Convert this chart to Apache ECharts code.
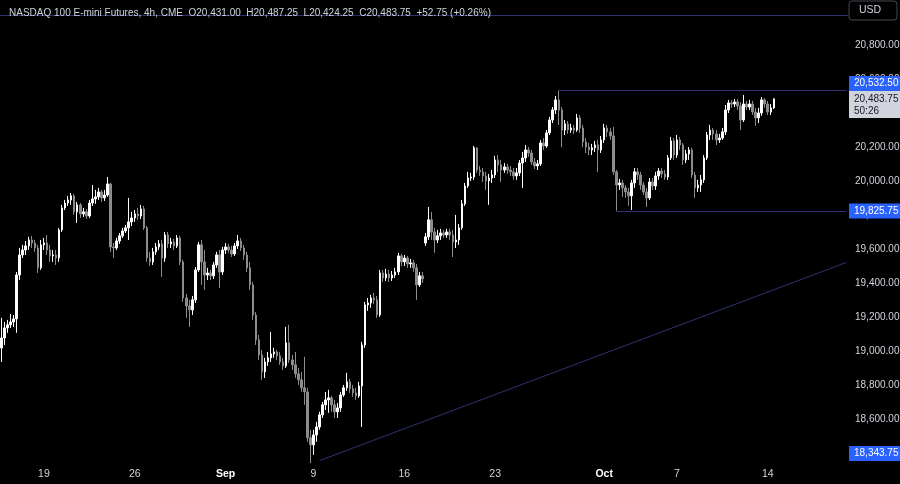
<!DOCTYPE html>
<html><head><meta charset="utf-8">
<script src="https://cdn.jsdelivr.net/npm/echarts@6/dist/echarts.min.js"></script>
<style>html,body{margin:0;padding:0;background:#000;}#c{width:900px;height:484px;}</style>
</head><body><div id="c"></div>
<script>
// ---- data ----
const title = "NASDAQ 100 E-mini Futures, 4h, CME";
const currency = "USD";
const countdown = "50:26";
const change = "+52.75 (+0.26%)";
// trading days and number of 4h bars in each
const days = [
 ["2024-08-14",2],["2024-08-15",6],["2024-08-16",6],
 ["2024-08-19",6],["2024-08-20",6],["2024-08-21",6],["2024-08-22",6],["2024-08-23",6],
 ["2024-08-26",6],["2024-08-27",6],["2024-08-28",6],["2024-08-29",6],["2024-08-30",6],
 ["2024-09-02",5],["2024-09-03",6],["2024-09-04",6],["2024-09-05",6],["2024-09-06",6],
 ["2024-09-09",6],["2024-09-10",6],["2024-09-11",6],["2024-09-12",6],["2024-09-13",6],
 ["2024-09-16",6],["2024-09-17",6],["2024-09-18",6],["2024-09-19",6],["2024-09-20",6],
 ["2024-09-23",6],["2024-09-24",6],["2024-09-25",6],["2024-09-26",6],["2024-09-27",6],
 ["2024-09-30",6],["2024-10-01",6],["2024-10-02",6],["2024-10-03",6],["2024-10-04",6],
 ["2024-10-07",6],["2024-10-08",6],["2024-10-09",6],["2024-10-10",6],["2024-10-11",6],
 ["2024-10-14",3]
];
const futureBars = 24;
const xTickLabels = {"2024-08-19":"19","2024-08-26":"26","2024-09-02":"Sep","2024-09-09":"9",
 "2024-09-16":"16","2024-09-23":"23","2024-10-01":"Oct","2024-10-07":"7","2024-10-14":"14"};
const monthLabels = ["Sep","Oct"];
const yTicks = [18400,18600,18800,19000,19200,19400,19600,19800,20000,20200,20400,20600,20800];
const yMin = 18350, yMax = 21065;

// candles: [open, close, low, high]
const aug14to16 = [
[19020,19079,18938,19197],[19079,19138,19038,19173],[19138,19156,19109,19185],[19156,19173,19138,19220],
[19173,19191,19144,19214],[19191,19449,19109,19467],[19449,19567,19420,19608],[19567,19596,19549,19626],
[19596,19620,19567,19649],[19620,19655,19596,19673],[19655,19637,19608,19679],[19637,19608,19585,19655],
[19608,19491,19461,19626],[19491,19626,19479,19655]];
const wkAug19 = [
[19626,19637,19596,19667],[19637,19596,19567,19684],[19596,19561,19526,19626],[19561,19567,19526,19596],
[19567,19549,19508,19596],[19549,19714,19526,19726],[19714,19843,19702,19861],[19843,19872,19831,19890],
[19872,19890,19855,19914],[19890,19914,19861,19931],[19914,19820,19802,19925],[19820,19861,19755,19878],
[19861,19808,19784,19872],[19808,19820,19790,19843],[19820,19796,19778,19837],[19796,19872,19784,19890],
[19872,19896,19855,19978],[19896,19908,19867,19949],[19908,19937,19890,19961],[19937,19902,19878,19949],
[19902,19919,19884,19949],[19919,19984,19908,20025],[19984,19614,19585,19990],[19614,19608,19549,19637],
[19608,19649,19596,19667],[19649,19679,19632,19696],[19679,19708,19667,19726],[19708,19726,19696,19743],
[19726,19761,19655,19902],[19761,19784,19737,19820]];
const wkAug26 = [
[19784,19808,19761,19831],[19808,19796,19773,19843],[19796,19837,19778,19861],[19837,19726,19714,19855],
[19726,19549,19526,19737],[19549,19526,19502,19585],[19526,19585,19508,19608],[19585,19614,19567,19637],
[19614,19632,19596,19655],[19632,19549,19438,19655],[19549,19684,19526,19702],[19684,19632,19608,19702],
[19632,19643,19608,19667],[19643,19620,19596,19661],[19620,19667,19608,19684],[19667,19526,19508,19679],
[19526,19314,19291,19538],[19314,19267,19197,19338],[19267,19244,19144,19303],[19244,19303,19214,19326],
[19303,19479,19285,19496],[19479,19626,19467,19643],[19626,19526,19391,19655],[19526,19449,19361,19596],
[19449,19461,19420,19491],[19461,19444,19420,19479],[19444,19508,19426,19526],[19508,19567,19491,19585],
[19567,19467,19373,19596],[19467,19596,19449,19614]];
const wkSep02 = [
[19596,19614,19573,19637],[19614,19596,19579,19632],[19596,19573,19555,19620],[19573,19620,19561,19637],
[19620,19649,19602,19684],[19649,19608,19590,19667],[19608,19567,19538,19626],[19567,19491,19467,19585],
[19491,19391,19361,19526],[19391,19214,19185,19408],[19214,19068,19038,19232],[19068,18979,18950,19097],
[18979,18880,18833,19009],[18880,18938,18844,18962],[18938,18962,18915,18997],[18962,18985,18938,19115],
[18985,18997,18962,19021],[18997,18974,18950,19009],[18974,18938,18921,18997],[18938,18915,18891,18962],
[18915,19050,18903,19144],[19050,18950,18932,19156],[18950,18921,18891,18979],[18921,18868,18844,18997],
[18868,18833,18803,18903],[18833,18786,18762,18880],[18786,18762,18686,18968],[18762,18492,18468,18786],
[18492,18451,18343.75,18539]];
const wkSep09 = [
[18451,18509,18392,18539],[18509,18556,18468,18586],[18556,18627,18539,18645],[18627,18686,18609,18703],
[18686,18715,18656,18762],[18715,18727,18639,18774],[18727,18686,18645,18739],[18686,18645,18609,18715],
[18645,18668,18609,18697],[18668,18744,18645,18762],[18744,18786,18733,18803],[18786,18821,18768,18874],
[18821,18780,18756,18838],[18780,18756,18733,18803],[18756,18739,18715,18786],[18739,18797,18727,18821],
[18797,19038,18556,19056],[19038,19273,19021,19291],[19273,19285,19238,19314],[19285,19314,19256,19332],
[19314,19303,19279,19344],[19303,19214,19197,19326],[19214,19461,19203,19479],[19461,19432,19408,19479],
[19432,19455,19414,19485],[19455,19432,19408,19479],[19432,19449,19414,19473],[19449,19467,19432,19491],
[19467,19561,19449,19579],[19561,19526,19502,19573]];
const wkSep16 = [
[19526,19549,19502,19567],[19549,19514,19491,19561],[19514,19520,19491,19543],[19520,19491,19467,19538],
[19491,19391,19303,19514],[19391,19444,19379,19467],[19444,19426,19402,19467],[19637,19673,19620,19696],
[19673,19773,19655,19849],[19773,19702,19655,19820],[19702,19655,19579,19726],[19655,19679,19637,19714],
[19679,19696,19655,19720],[19696,19684,19667,19714],[19684,19702,19667,19720],[19702,19684,19655,19720],
[19684,19643,19555,19714],[19643,19655,19608,19802],[19655,19726,19626,19749],[19726,19867,19714,19890],
[19867,19972,19855,19990],[19972,20019,19961,20055],[20019,20025,20002,20049],[20025,20196,20008,20207],
[20196,20066,20049,20201],[20066,20055,20031,20090],[20055,20031,19996,20078],[20031,20002,19949,20055],
[20002,20019,19861,20043],[20019,20037,19990,20066]];
const wkSep23 = [
[20037,20125,20019,20149],[20125,20096,20055,20154],[20096,20066,19996,20125],[20066,20084,20049,20107],
[20084,20066,20043,20102],[20066,20055,20031,20090],[20055,20031,20008,20078],[20031,20049,20008,20078],
[20049,20107,20031,20125],[20107,20137,19961,20172],[20137,20184,20113,20213],[20184,20166,20143,20201],
[20166,20113,20096,20184],[20113,20090,20072,20137],[20090,20102,20066,20125],[20102,20225,20090,20243],
[20225,20207,20184,20254],[20207,20284,20196,20301],[20284,20360,20272,20378],[20360,20419,20342,20436],
[20419,20478,20395,20501],[20478,20419,20331,20532.5],[20419,20301,20201,20436],[20301,20337,20272,20360],
[20337,20301,20278,20354],[20301,20313,20284,20337],[20313,20301,20278,20331],[20301,20372,20290,20395],
[20372,20313,20284,20389],[20313,20231,20201,20331]];
const wkSep30 = [
[20231,20201,20166,20254],[20201,20184,20154,20225],[20184,20196,20154,20219],[20196,20213,20172,20237],
[20213,20184,20055,20243],[20184,20243,20166,20266],[20243,20313,20225,20337],[20313,20290,20260,20331],
[20290,20266,20243,20313],[20266,20055,20037,20319],[20055,19978,19825.75,20066],[19978,19990,19949,20013],
[19990,19961,19908,20008],[19961,19937,19902,19978],[19937,19914,19855,19961],[19914,19990,19831,20008],
[19990,20055,19961,20078],[20055,20037,20008,20078],[20037,19978,19949,20055],[19978,19937,19919,19996],
[19937,19902,19849,19961],[19902,19996,19890,20019],[19996,19972,19949,20019],[19972,20031,19949,20055],
[20031,20060,20008,20078],[20060,20043,20019,20078],[20043,20025,20008,20066],[20025,20137,20008,20154],
[20137,20237,20125,20260],[20237,20154,20125,20254]];
const wkOct07 = [
[20154,20243,20137,20272],[20243,20213,20184,20260],[20213,20125,20096,20225],[20125,20160,20107,20184],
[20160,20184,20125,20201],[20184,20037,20019,20196],[20037,19961,19902,20055],[19961,19978,19937,20008],
[19978,20008,19937,20037],[20008,20137,19990,20154],[20137,20272,20125,20290],[20272,20301,20243,20331],
[20301,20278,20243,20313],[20278,20243,20213,20301],[20243,20254,20225,20278],[20254,20290,20243,20313],
[20290,20419,20272,20448],[20419,20460,20401,20478],[20460,20454,20431,20478],[20454,20466,20436,20483],
[20466,20442,20419,20483],[20442,20360,20301,20466],[20360,20454,20348,20507],[20454,20436,20419,20472],
[20436,20454,20419,20478],[20454,20407,20389,20472],[20407,20372,20325,20431],[20372,20401,20342,20431],
[20401,20478,20384,20495],[20478,20454,20431,20489]];
const wkOct14 = [
[20454,20407,20389,20472],[20407,20431,20389,20454],[20431,20483.75,20424.25,20487.25]];

// drawn levels
const resistance = {value: 20532.5, from: "2024-09-26 3"};
const support = {value: 19825.75, from: "2024-10-01 4"};
const swingLow = 18343.75;
const trendLine = [["2024-09-09 2", 18358], ["future 23", 19523]];
const topLine = 20977;

// ---- build ----
const candles = [].concat(aug14to16, wkAug19, wkAug26, wkSep02, wkSep09, wkSep16, wkSep23, wkSep30, wkOct07, wkOct14);
const cats = [], catLabel = {};
days.forEach(([d, n]) => { for (let k = 0; k < n; k++) { const c = d + " " + k; cats.push(c); if (k === 0 && xTickLabels[d]) catLabel[c] = xTickLabels[d]; } });
for (let k = 0; k < futureBars; k++) cats.push("future " + k);
const last = candles[candles.length - 1];
const fmt = v => v.toLocaleString('en-US', {minimumFractionDigits: 2, maximumFractionDigits: 2});
const header = title + "  O" + fmt(last[0]) + "  H" + fmt(last[3]) + "  L" + fmt(last[2]) + "  C" + fmt(last[1]) + "  " + change;
const lineColor = '#2e3273';
const FONT = "Liberation Sans";

const chart = echarts.init(document.getElementById('c'), null, {renderer: 'canvas'});
chart.setOption({
  backgroundColor: '#000000',
  animation: false,
  textStyle: {fontFamily: FONT},
  title: {text: header, left: 4, top: 3, textStyle: {color: '#d1d4dc', fontSize: 10, fontWeight: 'normal', fontFamily: FONT}},
  grid: {left: 0, right: 52, top: 0, bottom: 22, containLabel: false, outerBoundsMode: 'none'},
  xAxis: {
    type: 'category', data: cats, boundaryGap: true,
    axisLine: {show: false}, axisTick: {show: false}, splitLine: {show: false},
    axisLabel: {
      interval: (i, v) => catLabel[v] !== undefined,
      formatter: v => { const t = catLabel[v] || ''; return monthLabels.includes(t) ? '{m|' + t + '}' : t; },
      color: '#d1d4dc', fontSize: 10.5, margin: 7, fontFamily: FONT,
      rich: {m: {color: '#ffffff', fontWeight: 'bold', fontSize: 10.5, fontFamily: FONT}}
    }
  },
  yAxis: {
    type: 'value', position: 'right', min: yMin, max: yMax, scale: true,
    axisLine: {show: false}, axisTick: {show: false}, splitLine: {show: false},
    axisLabel: {customValues: yTicks, formatter: v => fmt(v), color: '#d1d4dc', fontSize: 10, margin: 7, fontFamily: FONT}
  },
  series: [{
    type: 'candlestick', data: candles, barWidth: 2,
    itemStyle: {color: '#ffffff', color0: '#8c8c8c', borderColor: '#ffffff', borderColor0: '#8c8c8c', borderWidth: 1},
    markLine: {
      silent: true, symbol: ['none', 'none'], animation: false, label: {show: false},
      lineStyle: {color: lineColor, width: 1, type: 'solid'},
      emphasis: {disabled: true},
      data: [
        {yAxis: topLine},
        [{coord: [resistance.from, resistance.value]}, {coord: ["future 23", resistance.value]}],
        [{coord: [support.from, support.value]}, {coord: ["future 23", support.value]}],
        [{coord: trendLine[0]}, {coord: trendLine[1]}]
      ]
    }
  }]
});

// price tags on the scale
const yPix = v => chart.convertToPixel({yAxisIndex: 0}, v);
const gridBottom = 484 - 22;
const tagH = 15, tagX = 849, tagW = 51;
const lastY = yPix(last[1]);
const lastTop = lastY - 8;
const tags = [
  {v: resistance.value, y: Math.min(yPix(resistance.value), lastTop - tagH / 2)},
  {v: support.value, y: yPix(support.value)},
  {v: swingLow, y: Math.min(yPix(swingLow), gridBottom - tagH / 2 - 1)}
];
const g = [];
g.push({type: 'rect', shape: {x: tagX, y: 1, width: 48, height: 19, r: 3}, style: {fill: '#000', stroke: '#434651', lineWidth: 1}, z: 100});
g.push({type: 'text', x: 859, y: 10.5, style: {text: currency, fill: '#d1d4dc', fontSize: 10.5, fontFamily: FONT, verticalAlign: 'middle'}, z: 101});
tags.forEach(t => {
  g.push({type: 'rect', shape: {x: tagX, y: t.y - tagH / 2, width: tagW, height: tagH}, style: {fill: '#2962ff'}, z: 100});
  g.push({type: 'text', x: 854, y: t.y, style: {text: fmt(t.v), fill: '#ffffff', fontSize: 10, fontFamily: FONT, verticalAlign: 'middle'}, z: 101});
});
g.push({type: 'rect', shape: {x: tagX, y: lastTop, width: tagW, height: 27}, style: {fill: '#d1d4dc'}, z: 100});
g.push({type: 'text', x: 854, y: lastY, style: {text: fmt(last[1]), fill: '#131722', fontSize: 10, fontFamily: FONT, verticalAlign: 'middle'}, z: 101});
g.push({type: 'text', x: 854, y: lastY + 12.5, style: {text: countdown, fill: '#131722', fontSize: 10, fontFamily: FONT, verticalAlign: 'middle'}, z: 101});
chart.setOption({graphic: g});
</script></body></html>
